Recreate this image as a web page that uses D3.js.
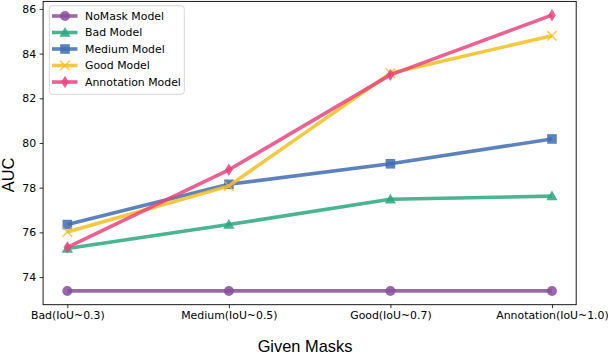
<!DOCTYPE html>
<html><head><meta charset="utf-8">
<script src="https://cdn.jsdelivr.net/npm/d3@7"></script>
<style>
html,body{margin:0;padding:0;background:#fff;}
svg{display:block;}
</style></head>
<body>
<svg id="chart" width="608" height="354"></svg>
<script>
const categories = ["Bad(IoU~0.3)", "Medium(IoU~0.5)", "Good(IoU~0.7)", "Annotation(IoU~1.0)"];
const seriesNames = ["NoMask Model", "Bad Model", "Medium Model", "Good Model", "Annotation Model"];
const noMaskValues = [73.38, 73.38, 73.38, 73.38];
const badValues = [75.28, 76.35, 77.48, 77.62];
const mediumValues = [76.35, 78.15, 79.07, 80.18];
const goodValues = [76.02, 78.08, 83.12, 84.80];
const annotationValues = [75.33, 78.80, 83.05, 85.72];
const yTicks = [74, 76, 78, 80, 82, 84, 86];
const colors = ["#874f9c", "#2aa87e", "#3f6db3", "#f5bd20", "#e9457b"];
const markers = ["circle", "triangle", "square", "x", "thindiamond"];
const xLabel = "Given Masks";
const yLabel = "AUC";

const series = seriesNames.map((n, i) => ({
  name: n,
  values: [noMaskValues, badValues, mediumValues, goodValues, annotationValues][i],
  color: colors[i],
  marker: markers[i]
}));

const svg = d3.select("#chart");
const L = 43.1, R = 576.2, T = 1.4, B = 304.7;

const allVals = series.flatMap(s => s.values);
const ymin = d3.min(allVals), ymax = d3.max(allVals);
const pad = (ymax - ymin) * 0.05;
const y = d3.scaleLinear().domain([ymin - pad, ymax + pad]).range([B, T]);
const x = d3.scaleLinear().domain([-0.15, categories.length - 1 + 0.15]).range([L, R]);

const tickFont = "DejaVu Sans, sans-serif";

const yAxis = d3.axisLeft(y).tickValues(yTicks).tickSize(3.5).tickPadding(3.5).tickFormat(d3.format("d"));
const gy = svg.append("g").attr("transform", `translate(${L},0)`).call(yAxis);
const xAxis = d3.axisBottom(x).tickValues(d3.range(categories.length)).tickSize(3.5).tickPadding(3.5).tickFormat(i => categories[i]);
const gx = svg.append("g").attr("transform", `translate(0,${B})`).call(xAxis);
[gx, gy].forEach(g => {
  g.select(".domain").remove();
  g.selectAll(".tick line").attr("stroke", "#000").attr("stroke-width", 0.8);
  g.selectAll(".tick text").attr("font-family", tickFont).attr("font-size", 10.9).attr("fill", "#000");
});

svg.append("rect").attr("x", L).attr("y", T).attr("width", R - L).attr("height", B - T)
  .attr("fill", "none").attr("stroke", "#000").attr("stroke-width", 0.9);

function drawMarker(g, type, cx, cy, color, scale) {
  const s = scale || 1;
  if (type === "circle") {
    g.append("circle").attr("cx", cx).attr("cy", cy).attr("r", 5 * s).attr("fill", color);
  } else if (type === "triangle") {
    const r = 5.6 * s;
    g.append("path").attr("d", `M${cx},${cy - r} L${cx + r},${cy + r * 0.75} L${cx - r},${cy + r * 0.75} Z`).attr("fill", color);
  } else if (type === "square") {
    const h = 4.8 * s;
    g.append("rect").attr("x", cx - h).attr("y", cy - h).attr("width", 2 * h).attr("height", 2 * h).attr("fill", color);
  } else if (type === "x") {
    const h = 4.8 * s;
    g.append("path").attr("d", `M${cx - h},${cy - h} L${cx + h},${cy + h} M${cx - h},${cy + h} L${cx + h},${cy - h}`)
      .attr("stroke", color).attr("stroke-width", 1.3).attr("fill", "none");
  } else if (type === "thindiamond") {
    const w = 3.8 * s, h = 6.2 * s;
    g.append("path").attr("d", `M${cx},${cy - h} L${cx + w},${cy} L${cx},${cy + h} L${cx - w},${cy} Z`).attr("fill", color);
  }
}

const line = d3.line().x((d, i) => x(i)).y(d => y(d));
const plot = svg.append("g");
series.forEach(s => {
  const g = plot.append("g");
  g.append("path").datum(s.values).attr("d", line).attr("fill", "none")
    .attr("stroke", s.color).attr("stroke-width", 3.6).attr("stroke-opacity", 0.85)
    .attr("stroke-linejoin", "round").attr("stroke-linecap", "butt");
  const mg = g.append("g").attr("opacity", 0.85);
  s.values.forEach((v, i) => drawMarker(mg, s.marker, x(i), y(v), s.color));
});

const lg = svg.append("g");
const lx = 49.3, ly = 5.7, lw = 135, lh = 88.6;
lg.append("rect").attr("x", lx).attr("y", ly).attr("width", lw).attr("height", lh).attr("rx", 3)
  .attr("fill", "#fff").attr("fill-opacity", 0.8).attr("stroke", "#d6d6d6").attr("stroke-width", 1);
series.forEach((s, i) => {
  const cy = 16 + i * 16.5;
  lg.append("line").attr("x1", 52).attr("x2", 77.5).attr("y1", cy).attr("y2", cy)
    .attr("stroke", s.color).attr("stroke-width", 3.6).attr("stroke-opacity", 0.85);
  const mg = lg.append("g").attr("opacity", 0.85);
  drawMarker(mg, s.marker, 65, cy, s.color);
  lg.append("text").attr("x", 85).attr("y", cy).attr("dy", "0.36em")
    .attr("font-family", tickFont).attr("font-size", 10.9).attr("fill", "#000").text(s.name);
});

svg.append("text").attr("x", 305).attr("y", 351.5).attr("text-anchor", "middle")
  .attr("font-family", "Liberation Sans, Arial, sans-serif").attr("font-size", 16.4).attr("fill", "#000").text(xLabel);
svg.append("text").attr("transform", "translate(14,175) rotate(-90)").attr("text-anchor", "middle")
  .attr("font-family", "Liberation Sans, Arial, sans-serif").attr("font-size", 16.4).attr("fill", "#000").text(yLabel);
</script>
</body></html>
